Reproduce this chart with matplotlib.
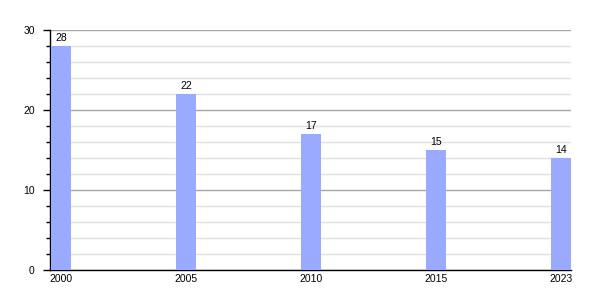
import matplotlib
matplotlib.use("Agg")
from matplotlib import pyplot as plt
from matplotlib.ticker import MultipleLocator

# values
years = ["2000", "2005", "2010", "2015", "2023"]
values = [28, 22, 17, 15, 14]

plt.rcParams["font.family"] = ["Liberation Sans", "DejaVu Sans"]
plt.rcParams["font.size"] = 7.5

fig = plt.figure(figsize=(6, 3), dpi=100)
ax = fig.add_axes([50 / 600, 30 / 300, 521 / 600, 240 / 300])

pos = list(range(len(years)))
bars = ax.bar(pos, values, width=0.16, color="#99aaff", zorder=3)
for x, v in zip(pos, values):
    ax.text(x, v + 0.4, str(v), ha="center", va="bottom", fontsize=7.5, zorder=4)

ax.set_xlim(-0.088, 4.08)
ax.set_ylim(0, 30)
ax.set_xticks(pos)
ax.set_xticklabels(years)
ax.tick_params(axis="x", length=0, pad=3)
ax.yaxis.set_major_locator(MultipleLocator(10))
ax.yaxis.set_minor_locator(MultipleLocator(2))
ax.tick_params(axis="y", which="major", length=5, width=1, pad=6)
ax.tick_params(axis="y", which="minor", length=3, width=1)

ax.grid(axis="y", which="major", color="#a8a8a8", linewidth=1, zorder=0)
ax.grid(axis="y", which="minor", color="#e0e0e0", linewidth=1, zorder=0)

for s in ["top", "right"]:
    ax.spines[s].set_visible(False)
ax.spines["left"].set_linewidth(1)
ax.spines["bottom"].set_linewidth(1)

plt.savefig("out.png", dpi=100)
